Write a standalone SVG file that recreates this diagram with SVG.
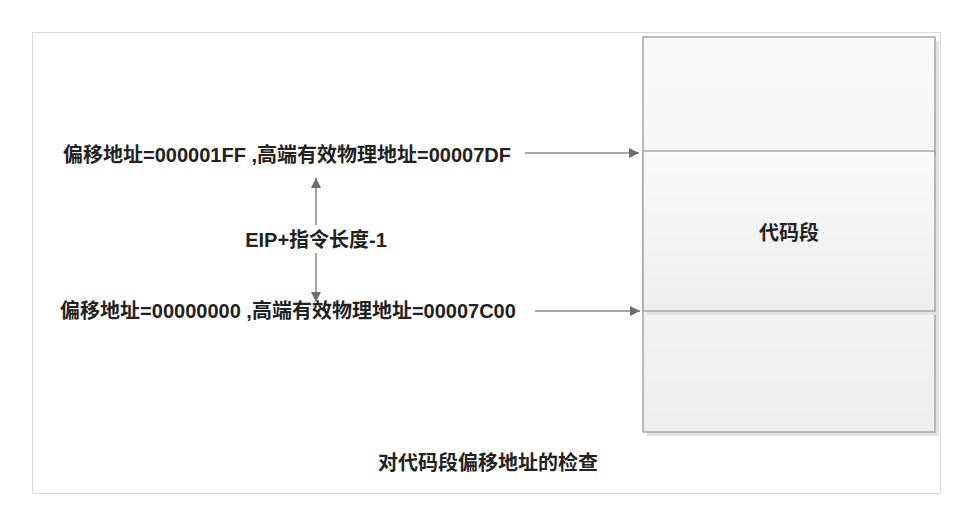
<svg xmlns="http://www.w3.org/2000/svg" width="978" height="516" viewBox="0 0 978 516">
<defs>
<linearGradient id="g1" x1="0" y1="0" x2="0" y2="1">
<stop offset="0" stop-color="#fafafa"/>
<stop offset="1" stop-color="#eeeeee"/>
</linearGradient>
<marker id="ah" viewBox="0 0 10 10" refX="10" refY="5" markerWidth="10" markerHeight="10" markerUnits="userSpaceOnUse" orient="auto">
<path d="M0,0 L10,5 L0,10 z" fill="#6e6e6e"/>
</marker>
<style>
.t{font-family:"Liberation Sans","Noto Sans CJK SC",sans-serif;font-weight:bold;font-size:20px;fill:#222}
.box{fill:url(#g1);stroke:#a6a6a6;stroke-width:1.5}
.sh{fill:#e2e2e2}
.c{stroke:#8a8a8a;stroke-width:1.5;fill:none;marker-end:url(#ah)}
</style>
</defs>
<rect x="0" y="0" width="978" height="516" fill="#fff"/>
<rect x="32.5" y="32.5" width="908" height="461" fill="#fff" stroke="#dadada" stroke-width="1"/>
<g id="memory">
<rect class="sh" x="647" y="41" width="292" height="395"/>
<rect class="box" x="643" y="37" width="292" height="395"/>
</g>
<g id="codeseg">
<rect class="sh" x="647" y="155" width="292" height="160"/>
<rect class="box" x="643" y="151" width="292" height="160"/>
<text class="t" x="789" y="240" text-anchor="middle">代码段</text>
</g>
<g id="high">
<text class="t" x="287" y="162" text-anchor="middle">偏移地址=000001FF ,高端有效物理地址=00007DF</text>
</g>
<g id="low">
<text class="t" x="288" y="318" text-anchor="middle">偏移地址=00000000 ,高端有效物理地址=00007C00</text>
</g>
<g id="len">
<text class="t" x="316" y="247" text-anchor="middle">EIP+指令长度-1</text>
</g>
<g id="caption">
<text class="t" x="488" y="470" text-anchor="middle">对代码段偏移地址的检查</text>
</g>
<g id="connectors">
<line class="c" x1="525" y1="153" x2="639" y2="153"/>
<line class="c" x1="535" y1="311" x2="640" y2="311"/>
<line class="c" x1="316" y1="225" x2="316" y2="178"/>
<line class="c" x1="316" y1="253" x2="316" y2="302"/>
</g>
</svg>
